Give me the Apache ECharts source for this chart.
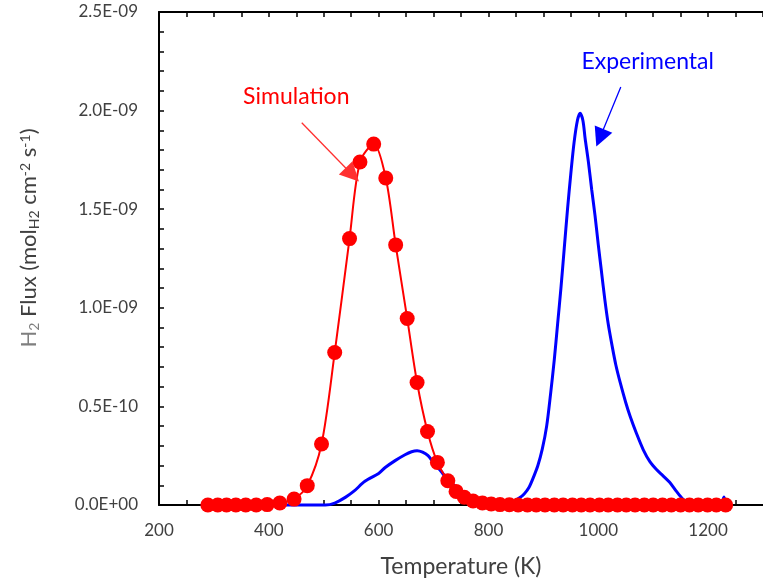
<!DOCTYPE html>
<html>
<head>
<meta charset="utf-8">
<script src="https://cdn.jsdelivr.net/npm/echarts@6/dist/echarts.min.js"></script>
<style>
html,body{margin:0;padding:0;background:#fff;}
#chart{width:763px;height:583px;}
</style>
</head>
<body>
<div id="chart"></div>
<script>
// Simulation (red, markers) — Temperature (K) and H2 flux in units of 1E-09
var simT = [289, 307, 323, 340, 358, 377, 397, 420, 446, 470, 496, 520, 547, 566, 591, 613, 631, 652, 670, 689, 707, 726, 741, 756, 772, 789, 805, 821, 838, 854, 871, 887, 903, 920, 936, 953, 969, 985, 1002, 1018, 1035, 1051, 1067, 1084, 1100, 1117, 1133, 1150, 1166, 1182, 1199, 1215, 1232];
var simFlux = [0, 0, 0, 0, 0, 0, 0.002, 0.01, 0.03, 0.098, 0.309, 0.773, 1.351, 1.739, 1.83, 1.658, 1.319, 0.946, 0.621, 0.373, 0.216, 0.123, 0.069, 0.039, 0.02, 0.01, 0.005, 0.002, 0.001, 0, 0, 0, 0, 0, 0, 0, 0, 0, 0, 0, 0, 0, 0, 0, 0, 0, 0, 0, 0, 0, 0, 0, 0];

// Experimental (blue line)
var expT = [290, 327, 400, 503, 520, 540, 555, 575, 600, 612, 630, 648, 660, 670, 680, 690, 700, 714, 725, 738, 750, 775, 800, 820, 835, 847, 856, 865, 874, 883, 890, 898, 906, 913, 920, 926, 932, 938, 944, 950, 956, 962, 967, 972, 976, 982, 988, 994, 1000, 1006, 1012, 1018, 1025, 1032, 1040, 1050, 1058, 1070, 1082, 1094, 1106, 1118, 1130, 1142, 1154, 1165, 1172, 1185, 1200, 1215, 1224, 1229, 1231];
var expFlux = [0, 0, 0, 0, 0.01, 0.04, 0.07, 0.12, 0.16, 0.19, 0.225, 0.255, 0.27, 0.275, 0.268, 0.25, 0.215, 0.17, 0.13, 0.098, 0.064, 0.03, 0.014, 0.012, 0.015, 0.022, 0.035, 0.056, 0.09, 0.148, 0.2, 0.283, 0.4, 0.56, 0.74, 0.92, 1.1, 1.3, 1.5, 1.68, 1.84, 1.95, 1.987, 1.95, 1.86, 1.74, 1.6, 1.47, 1.32, 1.18, 1.04, 0.92, 0.81, 0.71, 0.62, 0.52, 0.45, 0.36, 0.28, 0.22, 0.18, 0.148, 0.115, 0.07, 0.03, 0.01, 0.005, 0, 0, 0, 0.005, 0.04, 0.01];

// Tick labels
var yTickValues = [0, 0.5, 1.0, 1.5, 2.0, 2.5];
var yTickLabels = ['0.0E+00', '0.5E-10', '1.0E-09', '1.5E-09', '2.0E-09', '2.5E-09'];
var xTickLabels = ['200', '400', '600', '800', '1000', '1200'];

// Annotations (data coordinates)
var simNote = {text: 'Simulation', at: [450, 2.07], from: [460, 1.938], to: [552, 1.675]};
var expNote = {text: 'Experimental', at: [1090, 2.247], from: [1041, 2.12], to: [1003, 1.862]};

function zip(a, b) { return a.map(function (v, i) { return [v, b[i]]; }); }

var FONT = 'Lato';
var chart = echarts.init(document.getElementById('chart'), null, {renderer: 'canvas'});

var xCommon = {
  type: 'value', min: 200, max: 1300, interval: 50,
  axisLine: {show: true, onZero: false, lineStyle: {color: '#000', width: 2}},
  axisTick: {show: true, inside: true, length: 5, lineStyle: {color: '#000', width: 1.5}},
  splitLine: {show: false}
};

var option = {
  animation: false,
  backgroundColor: '#fff',
  grid: {left: 159, top: 12, right: -4, bottom: 77, containLabel: false},
  xAxis: [
    Object.assign({}, xCommon, {
      position: 'bottom',
      name: 'Temperature (K)', nameLocation: 'middle', nameGap: 50,
      nameTextStyle: {fontFamily: FONT, fontSize: 23, color: '#404040'},
      axisLabel: {
        show: true, margin: 17, fontFamily: FONT, fontSize: 17, color: '#404040',
        showMaxLabel: false,
        formatter: function (v) {
          var s = String(Math.round(v));
          return xTickLabels.indexOf(s) >= 0 && Math.abs(v - Math.round(v)) < 1e-6 ? s : '';
        }
      }
    }),
    Object.assign({}, xCommon, {
      position: 'top',
      axisLabel: {show: false}
    })
  ],
  yAxis: {
    type: 'value', min: 0, max: 2.5, interval: 0.1,
    axisLine: {show: true, onZero: false, lineStyle: {color: '#000', width: 2}},
    axisTick: {show: true, inside: true, length: 5, lineStyle: {color: '#000', width: 1.5}},
    splitLine: {show: false},
    axisLabel: {
      margin: 21, fontFamily: FONT, fontSize: 17, color: '#404040',
      formatter: function (v) {
        for (var i = 0; i < yTickValues.length; i++) {
          if (Math.abs(v - yTickValues[i]) < 1e-6) return yTickLabels[i];
        }
        return '';
      }
    }
  },
  series: [
    {
      name: 'Experimental', type: 'line', data: zip(expT, expFlux),
      showSymbol: false, symbol: 'none', smooth: 0.3, clip: false,
      lineStyle: {color: '#0000FF', width: 3},
      z: 2,
      markLine: {
        silent: true, symbol: ['none', 'triangle'], symbolSize: 19,
        lineStyle: {color: '#0000FF', width: 1.3, type: 'solid'},
        label: {show: false},
        data: [[{coord: expNote.from}, {coord: expNote.to}]]
      },
      markPoint: {
        silent: true, symbol: 'circle', symbolSize: 0,
        data: [{coord: expNote.at, value: expNote.text}],
        label: {show: true, position: 'inside', formatter: expNote.text, color: '#0000FF', fontFamily: FONT, fontSize: 23}
      }
    },
    {
      name: 'Simulation', type: 'line', data: zip(simT, simFlux),
      symbol: 'circle', symbolSize: 15, showSymbol: true, smooth: 0.3, clip: false,
      lineStyle: {color: '#FF0000', width: 2},
      itemStyle: {color: '#FF0000', borderWidth: 0},
      z: 3,
      markLine: {
        silent: true, symbol: ['none', 'triangle'], symbolSize: 19,
        lineStyle: {color: '#FF3030', width: 1.3, type: 'solid'},
        label: {show: false},
        data: [[{coord: simNote.from}, {coord: simNote.to}]]
      },
      markPoint: {
        silent: true, symbol: 'circle', symbolSize: 0,
        data: [{coord: simNote.at, value: simNote.text}],
        label: {show: true, position: 'inside', formatter: simNote.text, color: '#FF0000', fontFamily: FONT, fontSize: 23}
      }
    }
  ],
  graphic: [{
    type: 'text', x: 29, y: 238, rotation: Math.PI / 2,
    style: {
      text: '{g|H}{gs|2}{d| Flux (mol}{ds|H2}{d| cm}{du|-2}{d| s}{du|-1}{d|)}',
      align: 'center', verticalAlign: 'middle',
      rich: {
        g: {fontFamily: FONT, fontSize: 22, fill: '#7f7f7f', lineHeight: 30, verticalAlign: 'middle'},
        gs: {fontFamily: FONT, fontSize: 14, fill: '#7f7f7f', lineHeight: 30, verticalAlign: 'bottom', padding: [0, 0, 3, 0]},
        d: {fontFamily: FONT, fontSize: 22, fill: '#404040', lineHeight: 30, verticalAlign: 'middle'},
        ds: {fontFamily: FONT, fontSize: 14, fill: '#404040', lineHeight: 30, verticalAlign: 'bottom', padding: [0, 0, 3, 0]},
        du: {fontFamily: FONT, fontSize: 14, fill: '#404040', lineHeight: 30, verticalAlign: 'top', padding: [4, 0, 0, 0]}
      }
    }
  }]
};
chart.setOption(option);
</script>
</body>
</html>
